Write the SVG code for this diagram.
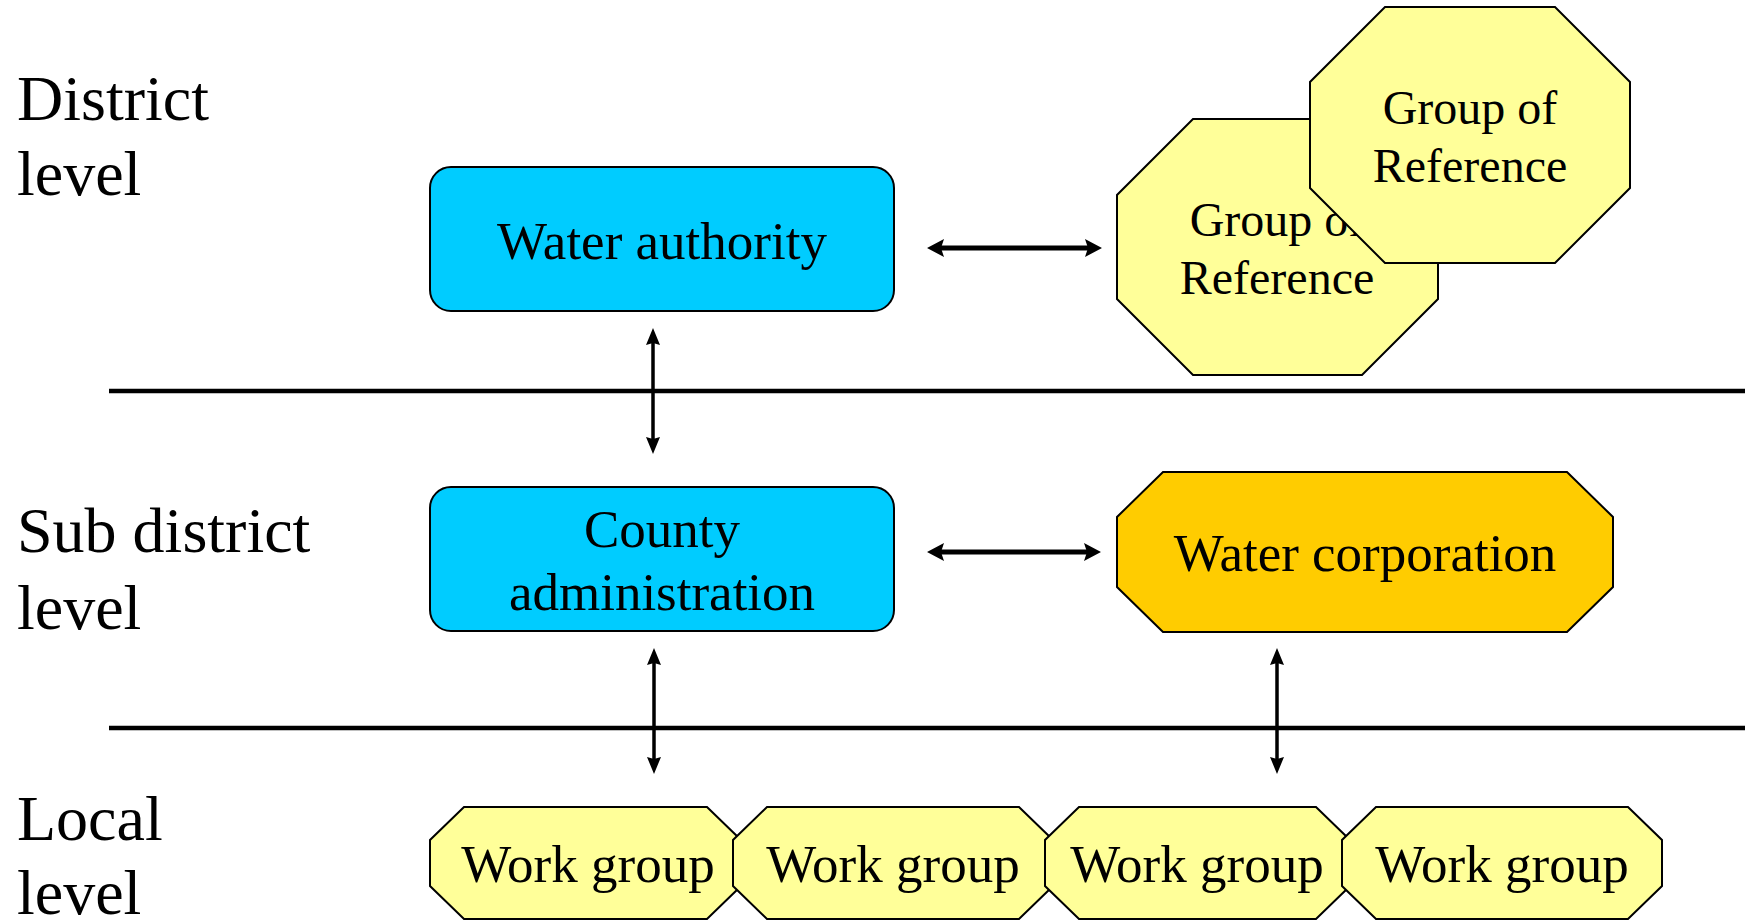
<svg xmlns="http://www.w3.org/2000/svg" width="1745" height="920" viewBox="0 0 1745 920">
<style>
  text { font-family: "Liberation Serif", "Times New Roman", serif; fill: #000; }
  .lbl { font-size: 64px; }
  .node { font-size: 53px; text-anchor: middle; }
  .ref { font-size: 48px; text-anchor: middle; }
  .blue { fill: #00CCFF; stroke: #000; stroke-width: 2; }
  .orange { fill: #FFCC00; stroke: #000; stroke-width: 2; }
  .yellow { fill: #FFFF99; stroke: #000; stroke-width: 2; }
  .sep { stroke: #000; stroke-width: 4.5; }
  .harr { stroke: #000; stroke-width: 5; fill: none; marker-start: url(#hh); marker-end: url(#hh); }
  .varr { stroke: #000; stroke-width: 3.5; fill: none; marker-start: url(#vh); marker-end: url(#vh); }
</style>
<defs>
  <marker id="hh" markerUnits="userSpaceOnUse" markerWidth="20" markerHeight="20" viewBox="0 0 20 20" refX="6" refY="9" orient="auto-start-reverse">
    <path d="M0,0 L17,9 L0,18 L3,9 z" fill="#000"/>
  </marker>
  <marker id="vh" markerUnits="userSpaceOnUse" markerWidth="20" markerHeight="20" viewBox="0 0 20 20" refX="6" refY="7" orient="auto-start-reverse">
    <path d="M0,0 L17,7 L0,14 L2,7 z" fill="#000"/>
  </marker>
</defs>
<rect width="1745" height="920" fill="#fff"/>

<g id="level-labels">
  <text class="lbl" x="17" y="120">District</text>
  <text class="lbl" x="17" y="195">level</text>
  <text class="lbl" x="17" y="552">Sub district</text>
  <text class="lbl" x="17" y="629">level</text>
  <text class="lbl" x="17" y="840">Local</text>
  <text class="lbl" x="17" y="914">level</text>
</g>

<g id="separators">
  <line class="sep" x1="109" y1="391" x2="1745" y2="391"/>
  <line class="sep" x1="109" y1="728" x2="1745" y2="728"/>
</g>

<g id="water-authority">
  <rect class="blue" x="430" y="167" width="464" height="144" rx="21" ry="21"/>
  <text class="node" x="662" y="259">Water authority</text>
</g>

<g id="group-of-reference-back">
  <polygon class="yellow" points="1193,119 1362,119 1438,195 1438,299 1362,375 1193,375 1117,299 1117,195"/>
  <text class="ref" x="1277" y="236">Group of</text>
  <text class="ref" x="1277" y="294">Reference</text>
</g>

<g id="group-of-reference-front">
  <polygon class="yellow" points="1385,7 1555,7 1630,82 1630,188 1555,263 1385,263 1310,188 1310,82"/>
  <text class="ref" x="1470" y="124">Group of</text>
  <text class="ref" x="1470" y="182">Reference</text>
</g>

<g id="county-administration">
  <rect class="blue" x="430" y="487" width="464" height="144" rx="21" ry="21"/>
  <text class="node" x="662" y="547">County</text>
  <text class="node" x="662" y="610">administration</text>
</g>

<g id="water-corporation">
  <polygon class="orange" points="1163,472 1567,472 1613,517 1613,587 1567,632 1163,632 1117,587 1117,517"/>
  <text class="node" x="1365" y="571">Water corporation</text>
</g>

<g id="work-group-1">
  <polygon class="yellow" points="464,807 707,807 741,840 741,886 707,919 464,919 430,886 430,840"/>
  <text class="node" x="588" y="882">Work group</text>
</g>
<g id="work-group-2">
  <polygon class="yellow" points="767,807 1019,807 1053,840 1053,886 1019,919 767,919 733,886 733,840"/>
  <text class="node" x="893" y="882">Work group</text>
</g>
<g id="work-group-3">
  <polygon class="yellow" points="1079,807 1316,807 1350,840 1350,886 1316,919 1079,919 1045,886 1045,840"/>
  <text class="node" x="1197" y="882">Work group</text>
</g>
<g id="work-group-4">
  <polygon class="yellow" points="1376,807 1628,807 1662,840 1662,886 1628,919 1376,919 1342,886 1342,840"/>
  <text class="node" x="1502" y="882">Work group</text>
</g>

<g id="connectors">
  <line class="harr" x1="938" y1="248" x2="1091" y2="248"/>
  <line class="harr" x1="938" y1="552" x2="1090" y2="552"/>
  <line class="varr" x1="653" y1="339" x2="653" y2="443"/>
  <line class="varr" x1="654" y1="659" x2="654" y2="763"/>
  <line class="varr" x1="1277" y1="659" x2="1277" y2="763"/>
</g>
</svg>
